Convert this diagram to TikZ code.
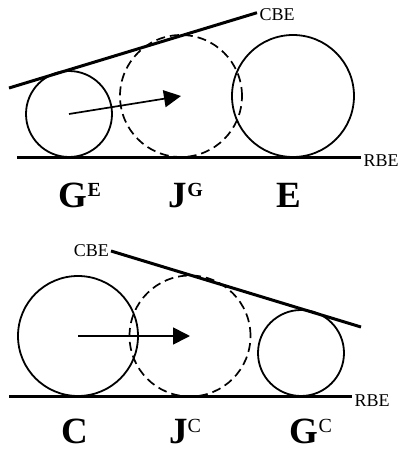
\documentclass[tikz,border=0pt]{standalone}
\usepackage{fontspec}
\setmainfont{Liberation Serif}
\usetikzlibrary{arrows.meta}

% superindice alineado con la parte alta de la mayuscula
\newcommand{\upE}[1]{\raisebox{11pt}{\fontsize{20}{20}\selectfont #1}}

\begin{document}
\begin{tikzpicture}[x=1pt, y=-1pt,
    wheel/.style={circle, draw, line width=1.8pt, inner sep=0pt},
    ghost/.style={wheel, line width=1.7pt, dash pattern=on 9pt off 5pt},
    belt/.style={line width=3pt},
    push/.style={line width=1.7pt, -{Triangle[length=17pt, width=17pt]}},
    rimtext/.style={font=\fontsize{18}{18}\selectfont, inner sep=1pt},
    letter/.style={font=\fontsize{37}{37}\selectfont\bfseries, anchor=base, inner sep=0pt}]

\useasboundingbox (0,0) rectangle (401,450);

% =============================================
% PANEL SUPERIOR
% =============================================

% Bordes
\coordinate (cbeL) at (9,88);
\coordinate (cbeR) at (257,12.7);
\coordinate (rbeL) at (17,157);
\coordinate (rbeR) at (361,157);
\draw[belt] (cbeL) -- (cbeR) node[rimtext, anchor=west, yshift=-2pt] (cbeA) {CBE};
\draw[belt] (rbeL) -- (rbeR) node[rimtext, anchor=west, yshift=-3.5pt] (rbeA) {RBE};

% Ruedas
\node[wheel, minimum size=86pt] (ge) at (69,114) {};
\node[ghost, minimum size=122pt] (jg) at (181,96) {};
\node[wheel, minimum size=122pt] (e) at (293,96) {};

% Desplazamiento
\draw[push] (ge.center) -- (jg.center);

% Etiquetas
\node[letter] (lge) at (80,207) {G\upE{E}};
\node[letter] (ljg) at (186,207) {J\upE{G}};
\node[letter] (le) at (289,207) {E};

% =============================================
% PANEL INFERIOR
% =============================================

% Bordes
\coordinate (cbeL2) at (111,251);
\coordinate (cbeR2) at (361,327);
\coordinate (rbeL2) at (9,396);
\coordinate (rbeR2) at (352,396);
\draw[belt] (cbeL2) -- (cbeR2);
\node[rimtext, anchor=east, inner sep=2pt] (cbeB) at (cbeL2) {CBE};
\draw[belt] (rbeL2) -- (rbeR2) node[rimtext, anchor=west, yshift=-4.5pt] (rbeB) {RBE};

% Ruedas
\node[wheel, minimum size=120pt] (c) at (78,336) {};
\node[ghost, minimum size=121pt] (jc) at (190,336) {};
\node[wheel, minimum size=86pt] (gc) at (301,353) {};

% Desplazamiento
\draw[push] (c.center) -- (jc.center);

% Etiquetas
\node[letter] (lc) at (74.5,443) {C};
\node[letter] (ljc) at (185,443) {J\upE{\mdseries C}};
\node[letter] (lgc) at (311,443) {G\upE{\mdseries C}};

\end{tikzpicture}
\end{document}
